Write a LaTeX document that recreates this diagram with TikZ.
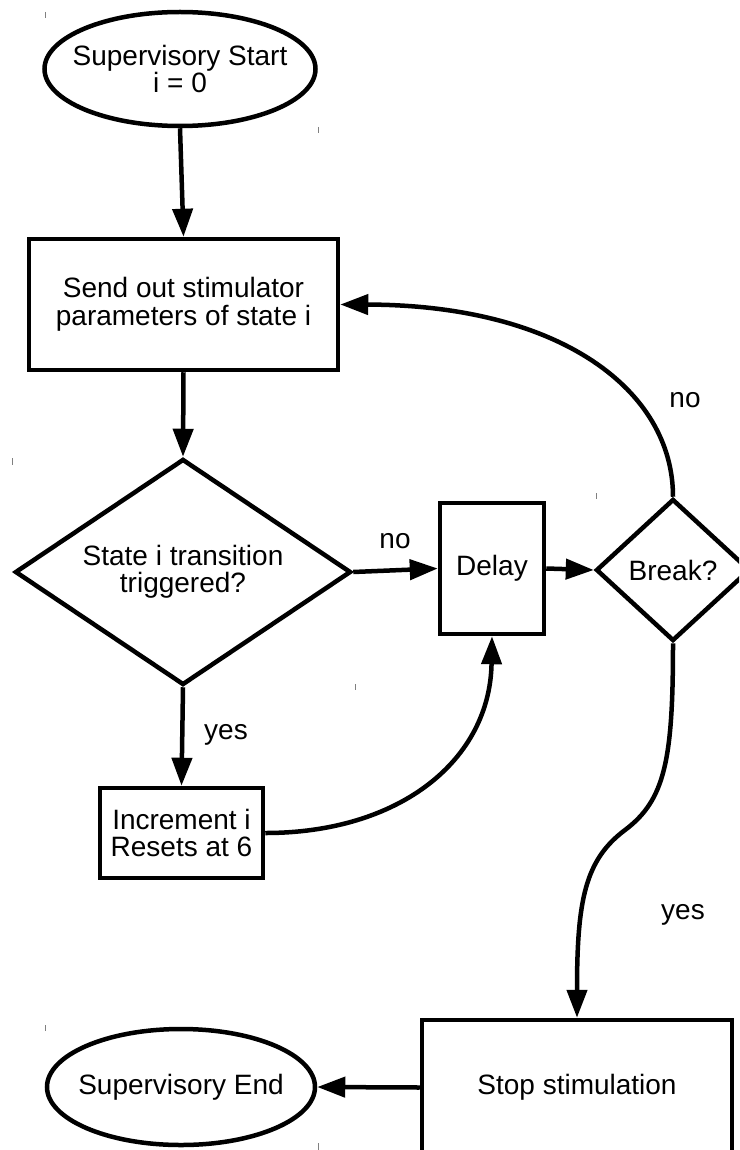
\documentclass[tikz,border=0pt]{standalone}
\usepackage{fontspec}
\setmainfont{Liberation Sans}
\usetikzlibrary{shapes.geometric,arrows.meta}
\begin{document}
\begin{tikzpicture}[x=1pt,y=-1pt,
  every node/.style={font=\fontsize{28}{27.5}\selectfont},
  box/.style={draw, line width=4.5pt, rectangle, inner sep=0pt, align=center},
  ell/.style={draw, line width=4.5pt, ellipse, inner xsep=-40pt, inner ysep=-40pt, align=center},
  dia/.style={draw, line width=4.5pt, diamond, inner xsep=-60pt, inner ysep=-60pt, align=center},
  lbl/.style={inner sep=0pt},
  arr/.style={line width=4.5pt, -{Triangle[length=28pt,width=20pt]}},
  tick/.style={draw=gray, line width=1pt}]
\useasboundingbox (0,0) rectangle (739,1150);
\clip (0,0) rectangle (739,1150);

\node[ell, minimum width=271pt, minimum height=114pt] (start) at (180,69) {Supervisory Start\\i = 0};
\node[box, minimum width=309pt, minimum height=131pt] (send) at (183.5,304.5) {Send out stimulator\\parameters of state i};
\node[dia, minimum width=336pt, minimum height=226pt] (dec) at (183,572) {State i transition\\triggered?};
\node[box, minimum width=104pt, minimum height=131pt] (delay) at (492,568.5) {Delay};
\node[dia, minimum width=154pt, minimum height=142pt] (brk) at (673,570) {Break?};
\node[box, minimum width=163pt, minimum height=90pt] (incr) at (181.5,833) {Increment i\\Resets at 6};
\node[box, minimum width=310pt, minimum height=135pt] (stop) at (577,1087.5) {Stop stimulation};
\node[ell, minimum width=268pt, minimum height=116pt] (end) at (181,1087) {Supervisory End};

\node[lbl] (no1) at (395,541) {no};
\node[lbl] (no2) at (685,400) {no};
\node[lbl] (yes1) at (226,735) {yes};
\node[lbl] (yes2) at (683,915) {yes};

\draw[arr] (start.south) -- (send.north);
\draw[arr] (send.south) -- (dec.north);
\draw[arr] (dec.east) -- (delay.west);
\draw[arr] (delay.east) -- (brk.west);
\draw[arr] (dec.south) -- (incr.north);
\draw[arr] (incr.east) .. controls (400,833) and (490,760) .. (delay.south);
\draw[arr] (brk.north) .. controls (673,390) and (560,305) .. (send.east);
\draw[arr] (brk.south) .. controls (673,760) and (665,800) .. (625,830) .. controls (585,860) and (577,900) .. (stop.north);
\draw[arr] (stop.west) -- (end.east);

\draw[tick] (45,12) -- (45,18);
\draw[tick] (318,127) -- (318,133);
\draw[tick] (12,458) -- (12,465);
\draw[tick] (596,493) -- (596,499);
\draw[tick] (355,684) -- (355,690);
\draw[tick] (45,1025) -- (45,1031);
\draw[tick] (318,1143) -- (318,1150);
\end{tikzpicture}
\end{document}
